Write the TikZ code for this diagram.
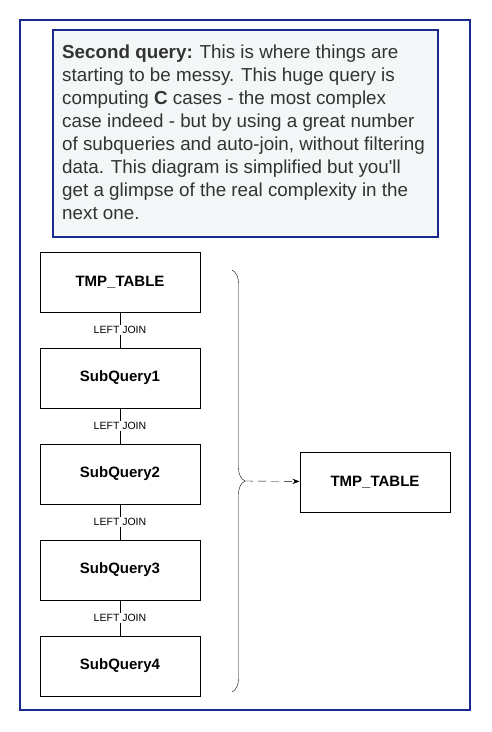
\documentclass[tikz,border=0pt]{standalone}
\usepackage{fontspec}
\setmainfont{Liberation Sans}
\usepackage{xcolor}
\usetikzlibrary{positioning,decorations.pathreplacing,arrows.meta}
\definecolor{framblue}{HTML}{1A2A8C}
\definecolor{notefill}{HTML}{F3F7F7}
\definecolor{notetext}{HTML}{333333}

\begin{document}
\begin{tikzpicture}[x=1pt,y=-1pt]%
  \tikzstyle{tbl}=[rectangle,draw=black,line width=1pt,minimum width=160pt,minimum height=60pt,
    font=\fontsize{15}{18}\selectfont\bfseries]
  \tikzstyle{joinlbl}=[font=\fontsize{10.5}{12}\selectfont,fill=white,inner sep=1pt]
  \tikzstyle{frm}=[draw=framblue,line width=1.1pt]
  \useasboundingbox (0,0) rectangle (492,732);
  % outer frame and note
  \draw[frm] (20,20) rectangle (470,710);
  \draw[frm,fill=notefill] (53,30) rectangle (438,237);
  \node(note)[anchor=north west,align=left,inner sep=0,text=notetext,
    font=\fontsize{18.8}{22.9}\selectfont] at (62,45)
    {\textbf{Second query:} This is where things are\\
     starting to be messy. This huge query is\\
     computing \textbf{C} cases - the most complex\\
     case indeed - but by using a great number\\
     of subqueries and auto-join, without filtering\\
     data. This diagram is simplified but you\textquotesingle ll\\
     get a glimpse of the real complexity in the\\
     next one.};
  % join chain
  \node(tmp)[tbl] at (120,282) {TMP\_TABLE};
  \node(sq1)[tbl,below=35pt of tmp] {SubQuery1};
  \node(sq2)[tbl,below=35pt of sq1] {SubQuery2};
  \node(sq3)[tbl,below=35pt of sq2] {SubQuery3};
  \node(sq4)[tbl,below=35pt of sq3] {SubQuery4};
  \foreach \a/\b in {tmp/sq1,sq1/sq2,sq2/sq3,sq3/sq4}
    \draw (\a) -- node[joinlbl]{LEFT JOIN} (\b);
  % brace and result
  \coordinate(btop) at (232,270);
  \coordinate(bbot) at (232,692);
  \coordinate(btip) at (245,481);
  \draw[decorate,decoration={brace,amplitude=13pt}] (btop) -- (bbot);
  \node(res)[tbl,minimum width=150pt] at (375,482) {TMP\_TABLE};
  \draw[dash pattern=on 8pt off 5pt,-{Stealth[length=7pt]}] (btip) -- (res);
\end{tikzpicture}
\end{document}
